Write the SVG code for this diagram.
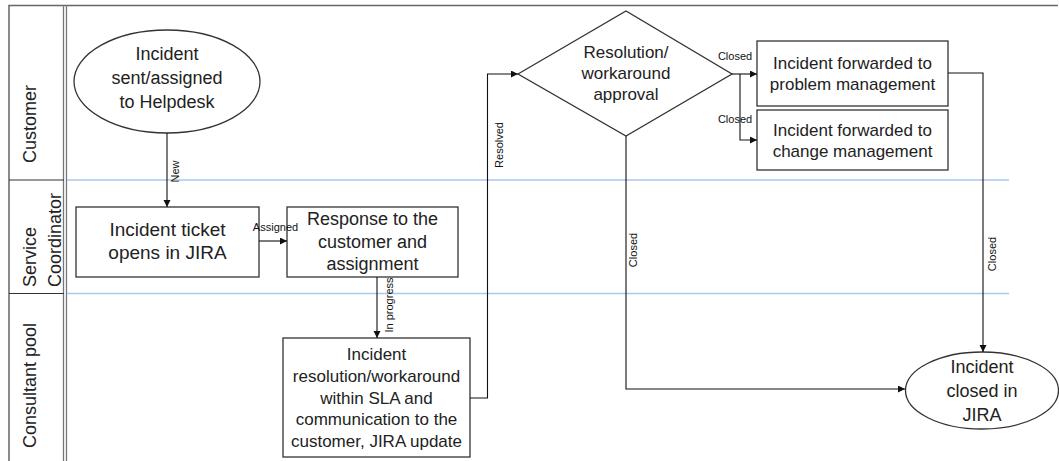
<svg xmlns="http://www.w3.org/2000/svg" width="1059" height="461" viewBox="0 0 1059 461">
<defs>
<style>
.node{fill:#fff;stroke:#333;stroke-width:1.3}
.t{font-family:"Liberation Sans",Arial,sans-serif;fill:#222;text-anchor:middle}
.lane{font-family:"Liberation Sans",Arial,sans-serif;fill:#222;font-size:18px}
.lbl{font-family:"Liberation Sans",Arial,sans-serif;fill:#111;font-size:11px;text-anchor:middle}
.c{fill:none;stroke:#111;stroke-width:1.1;marker-end:url(#arr)}
.blue{stroke:#a9c9ea;stroke-width:1.5}
.frame{stroke:#666;stroke-width:1.5;fill:none}
</style>
<marker id="arr" markerUnits="userSpaceOnUse" markerWidth="8" markerHeight="8" refX="7" refY="3.5" orient="auto">
<path d="M0,0 L7,3.5 L0,7 z" fill="#111"/>
</marker>
</defs>
<rect width="1059" height="461" fill="#fff"/>
<g id="frame">
<path class="frame" d="M9,461 V5.5 H1058"/>
<line x1="63.5" y1="5" x2="63.5" y2="461" stroke="#777" stroke-width="1.3"/>
<line x1="66.5" y1="5" x2="66.5" y2="461" stroke="#777" stroke-width="1.3"/>
<line x1="9" y1="180" x2="64" y2="180" stroke="#333" stroke-width="1.2"/>
<line x1="9" y1="293.5" x2="64" y2="293.5" stroke="#333" stroke-width="1.2"/>
<line class="blue" x1="67" y1="180" x2="1009" y2="180"/>
<line class="blue" x1="67" y1="293.5" x2="1009" y2="293.5"/>
</g>
<g id="lanes">
<text class="lane" transform="translate(36,163) rotate(-90)">Customer</text>
<text class="lane" transform="translate(36,287) rotate(-90)">Service</text>
<text class="lane" transform="translate(60.5,287) rotate(-90)">Coordinator</text>
<text class="lane" transform="translate(36,448) rotate(-90)">Consultant pool</text>
</g>
<g id="start">
<ellipse class="node" cx="167" cy="81.5" rx="93" ry="51.5"/>
<text class="t" font-size="18"><tspan x="167" y="60">Incident</tspan><tspan x="167" y="84">sent/assigned</tspan><tspan x="167" y="108">to Helpdesk</tspan></text>
</g>
<g id="ticket">
<rect class="node" x="76" y="207" width="183" height="70"/>
<text class="t" font-size="19"><tspan x="167.5" y="236">Incident ticket</tspan><tspan x="167.5" y="259">opens in JIRA</tspan></text>
</g>
<g id="response">
<rect class="node" x="287" y="207" width="171" height="70"/>
<text class="t" font-size="18"><tspan x="372.5" y="225">Response to the</tspan><tspan x="372.5" y="247.5">customer and</tspan><tspan x="372.5" y="270">assignment</tspan></text>
</g>
<g id="resolution">
<rect class="node" x="283" y="338" width="187" height="119"/>
<text class="t" font-size="17"><tspan x="376.5" y="360">Incident</tspan><tspan x="376.5" y="382">resolution/workaround</tspan><tspan x="376.5" y="403.5">within SLA and</tspan><tspan x="376.5" y="425">communication to the</tspan><tspan x="376.5" y="447">customer, JIRA update</tspan></text>
</g>
<g id="approval">
<path class="node" d="M518,74 L626,11 L732,74 L626,136 Z"/>
<text class="t" font-size="17"><tspan x="626" y="58">Resolution/</tspan><tspan x="626" y="79">workaround</tspan><tspan x="626" y="100">approval</tspan></text>
</g>
<g id="problem">
<rect class="node" x="757" y="41" width="191" height="65"/>
<text class="t" font-size="17"><tspan x="852.5" y="69">Incident forwarded to</tspan><tspan x="852.5" y="90">problem management</tspan></text>
</g>
<g id="change">
<rect class="node" x="757" y="110" width="191" height="60"/>
<text class="t" font-size="17"><tspan x="852.5" y="136">Incident forwarded to</tspan><tspan x="852.5" y="157">change management</tspan></text>
</g>
<g id="closed">
<ellipse class="node" cx="982" cy="390.5" rx="76.5" ry="38.5"/>
<text class="t" font-size="18"><tspan x="982" y="373">Incident</tspan><tspan x="982" y="397">closed in</tspan><tspan x="982" y="421">JIRA</tspan></text>
</g>
<g id="connectors">
<path class="c" d="M167,133 V207"/>
<path class="c" d="M259,241 H287"/>
<path class="c" d="M377,277 V338"/>
<path class="c" d="M470,398 H487.5 V74 H518"/>
<path class="c" d="M732,74 H757"/>
<path class="c" d="M740,74 V140 H757"/>
<path class="c" d="M626,136 V389 H905"/>
<path class="c" d="M948,73 H983 V352"/>
<text class="lbl" transform="translate(179,171.5) rotate(-90)">New</text>
<text class="lbl" x="275.5" y="231">Assigned</text>
<text class="lbl" transform="translate(393,305) rotate(-90)">In progress</text>
<text class="lbl" transform="translate(503,145) rotate(-90)">Resolved</text>
<text class="lbl" x="735" y="60">Closed</text>
<text class="lbl" x="735" y="123">Closed</text>
<text class="lbl" transform="translate(637,250) rotate(-90)">Closed</text>
<text class="lbl" transform="translate(996,254) rotate(-90)">Closed</text>
</g>
</svg>
